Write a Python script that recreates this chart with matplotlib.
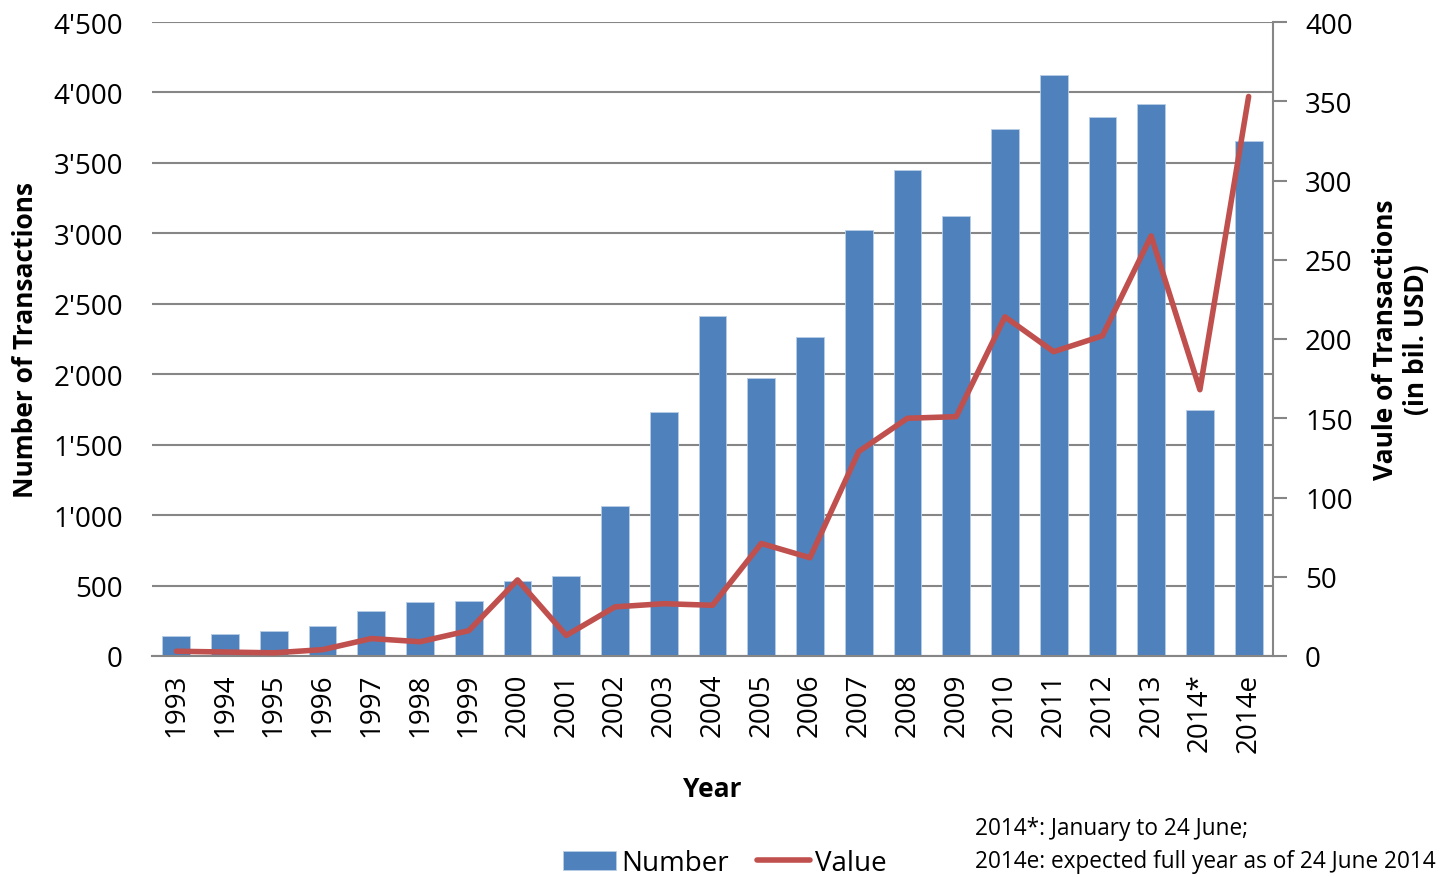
import matplotlib
matplotlib.use("Agg")
import matplotlib.pyplot as plt
import numpy as np
from matplotlib.ticker import FuncFormatter

years = ["1993", "1994", "1995", "1996", "1997", "1998", "1999", "2000", "2001", "2002",
         "2003", "2004", "2005", "2006", "2007", "2008", "2009", "2010", "2011", "2012",
         "2013", "2014*", "2014e"]
number = [142, 156, 177, 213, 319, 383, 390, 532, 568, 1065, 1732, 2413, 1973, 2264,
          3024, 3450, 3123, 3741, 4124, 3826, 3918, 1746, 3655]
value = [3, 2.5, 2, 4, 11, 9, 16, 48, 13, 31, 33, 32, 71, 62, 129, 150, 151, 214, 192,
         202, 265, 168, 353]
left_ticks = [0, 500, 1000, 1500, 2000, 2500, 3000, 3500, 4000, 4500]
right_ticks = [0, 50, 100, 150, 200, 250, 300, 350, 400]

plt.rcParams['font.family'] = ['Open Sans', 'DejaVu Sans']

fig = plt.figure(figsize=(14.41, 8.78), dpi=100)
ax = fig.add_axes([152/1441, 1 - 657/878, (1273-152)/1441, (657-23)/878])
ax2 = ax.twinx()

x = np.arange(len(years))
bars = ax.bar(x, number, width=0.57, color='#4F81BD', edgecolor='#B9CDE5', linewidth=0.6, zorder=2, label='Number')
ax.set_ylim(0, 4500)
ax.set_xlim(-0.5, len(years) - 0.5)
ax.set_yticks(left_ticks)
ax.yaxis.set_major_formatter(FuncFormatter(lambda v, p: f"{int(v):,}".replace(",", "'")))
ax.grid(axis='y', color='#868686', linewidth=1.5, zorder=0)
ax.set_axisbelow(True)
ax.set_xticks(x)
ax.set_xticklabels(years, rotation=90, fontsize=20)
ax.tick_params(axis='y', length=0, labelsize=20, pad=21)
ax.tick_params(axis='x', length=0, pad=12)
for s in ['left', 'top', 'right']:
    ax.spines[s].set_visible(False)
ax.spines['bottom'].set_color('#868686')
ax.spines['bottom'].set_linewidth(1.5)
ax.set_ylabel('Number of Transactions', fontsize=19, fontweight='bold', labelpad=10)
ax.set_xlabel('Year', fontsize=19, fontweight='bold', labelpad=17)

line, = ax2.plot(x, value, color='#C0504D', linewidth=4, solid_capstyle='round', zorder=3, label='Value')
ax2.set_ylim(0, 400)
ax2.set_yticks(right_ticks)
ax2.tick_params(axis='y', labelsize=20, length=10, width=1.5, color='#868686', pad=13)
for s in ['left', 'top', 'bottom']:
    ax2.spines[s].set_visible(False)
ax2.spines['right'].set_color('#868686')
ax2.spines['right'].set_linewidth(1.5)
ax2.set_ylabel('Vaule of Transactions\n(in bil. USD)', fontsize=19, fontweight='bold', labelpad=14)

fig.legend([bars, line], ['Number', 'Value'], loc='center', bbox_to_anchor=(725/1441, 1 - 864/878),
           ncol=2, frameon=False, fontsize=20, handlelength=1.9, handletextpad=0.2, columnspacing=1.0)

fig.text(975/1441, 1 - 829/878, '2014*: January to 24 June;', fontsize=16.3, va='center', ha='left')
fig.text(975/1441, 1 - 862/878, '2014e: expected full year as of 24 June 2014', fontsize=16.3, va='center', ha='left')

fig.savefig('out.png', dpi=100)
